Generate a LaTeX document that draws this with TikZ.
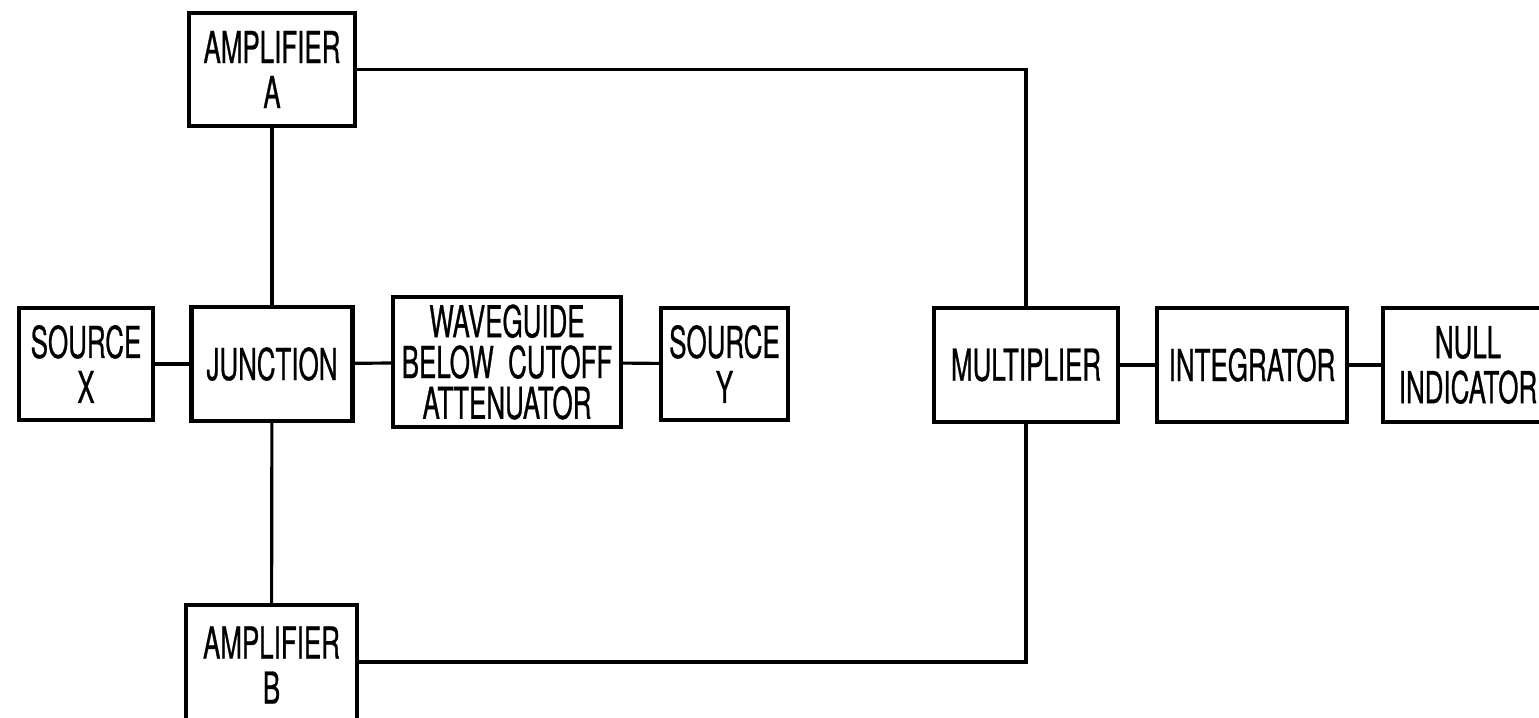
\documentclass[tikz,border=0pt]{standalone}
\usepackage{fontspec}
\setmainfont[FakeStretch=0.59, FakeBold=0.6]{TeX Gyre Heros}
\usepackage{tikz}
\usetikzlibrary{positioning}

\tikzset{
  box/.style={draw, line width=1.2pt, align=center, inner sep=0pt,
    font=\fontsize{12.5}{12.8}\selectfont},
  wire/.style={line width=0.9pt}
}

\begin{document}
\begin{tikzpicture}[x=0.01cm, y=-0.01cm]
  \useasboundingbox (0,0) rectangle (1539,717);

  % Amplifiers
  \node[box, minimum width=1.66cm, minimum height=1.13cm] (ampA) at (272,69.5)
    {AMPLIFIER\\A};
  \node[box, minimum width=1.71cm, minimum height=1.20cm] (ampB) at (271.5,665)
    {AMPLIFIER\\B};

  % Middle row
  \node[box, minimum width=1.34cm, minimum height=1.12cm] (srcX) at (86,364)
    {SOURCE\\X};
  \node[box, minimum width=1.61cm, minimum height=1.14cm] (junc) at (272,364)
    {JUNCTION};
  \node[box, minimum width=2.28cm, minimum height=1.30cm,
    font=\fontsize{12.5}{11.6}\selectfont] (wg) at (507,362)
    {WAVEGUIDE\\BELOW\ \ CUTOFF\\ATTENUATOR};
  \node[box, minimum width=1.27cm, minimum height=1.12cm] (srcY) at (724.5,364)
    {SOURCE\\Y};

  \node[box, minimum width=1.84cm, minimum height=1.14cm] (mult) at (1026,365)
    {MULTIPLIER};
  \node[box, minimum width=1.90cm, minimum height=1.14cm] (integ) at (1252,365)
    {INTEGRATOR};
  \node[box, minimum width=1.70cm, minimum height=1.14cm] (nullind) at (1468,365)
    {NULL\\INDICATOR};

  % Connections
  \draw[wire] (srcX) -- (junc);
  \draw[wire] (junc) -- (wg);
  \draw[wire] (wg) -- (srcY);
  \draw[wire] (ampA) -- (junc);
  \draw[wire] (junc) -- (ampB);
  \draw[wire] (ampA.east) -| (mult.north);
  \draw[wire] (ampB.east |- 0,662) -| (mult.south);
  \draw[wire] (mult) -- (integ);
  \draw[wire] (integ) -- (nullind);
\end{tikzpicture}
\end{document}
